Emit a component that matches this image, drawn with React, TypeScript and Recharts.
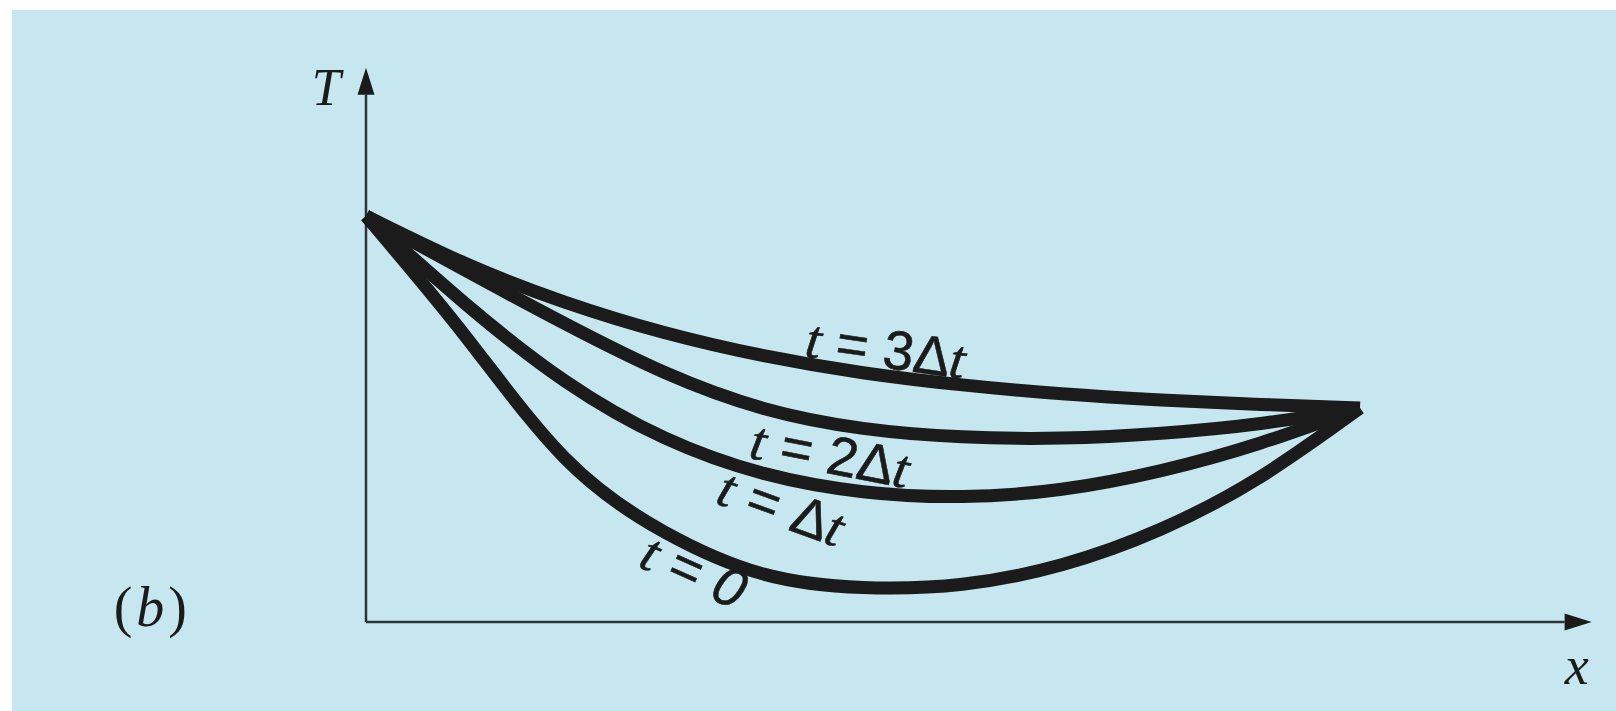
import React from 'react';
import { LineChart, Line, XAxis, YAxis, ReferenceLine, ReferenceDot } from 'recharts';

// Position along the rod (0 = left end, 10 = right end)
const positions = [0, 1, 2, 3, 4, 5, 6, 7, 8, 9, 10];

// Temperature profiles at successive time steps
const tempAt0 = [100, 70.4, 40.4, 22.2, 11.8, 8.5, 9.3, 14.1, 22.9, 35.8, 52.7];
const tempAt1 = [100, 78.4, 59.4, 45.4, 36.6, 32.1, 30.9, 32.7, 37.3, 44.1, 52.7];
const tempAt2 = [100, 86.6, 73.5, 61.5, 52.6, 47.7, 45.6, 45.3, 46.5, 48.9, 52.7];
const tempAt3 = [100, 88.3, 78.8, 71.3, 65.6, 61.4, 58.4, 56.2, 54.7, 53.6, 52.7];

// Curve labels: [time suffix, x, T, rotation]
const curveLabels: Array<[string, number, number, number]> = [
  ['3Δ', 5.23, 67.3, 8],
  ['2Δ', 4.67, 41.3, 11],
  ['Δ', 4.18, 28.3, 20],
  ['0', 3.3, 12.6, 24],
];

const data = positions.map((x, i) => ({
  x,
  t0: tempAt0[i],
  t1: tempAt1[i],
  t2: tempAt2[i],
  t3: tempAt3[i],
}));

const INK = '#1b1b1b';
const AXIS = '#2e3436';
const SERIF = '"Liberation Serif", "DejaVu Serif", serif';
const SANS = '"Liberation Sans", Arial, sans-serif';

function ArrowAxis(props: any) {
  const { x1, y1, x2, y2 } = props;
  const dx = x2 - x1;
  const dy = y2 - y1;
  const len = Math.sqrt(dx * dx + dy * dy) || 1;
  const ux = dx / len;
  const uy = dy / len;
  const head = 27;
  const half = 8.5;
  const bx = x2 - ux * head;
  const by = y2 - uy * head;
  const px = -uy * half;
  const py = ux * half;
  return (
    <g>
      <line x1={x1} y1={y1} x2={bx} y2={by} stroke={AXIS} strokeWidth={2.5} />
      <polygon
        points={`${x2},${y2} ${bx + px},${by + py} ${bx - px},${by - py}`}
        fill={INK}
      />
    </g>
  );
}

function CurveLabel(suffix: string, rot: number) {
  return (props: any) => {
    const { cx, cy } = props;
    const italicNum = suffix === '0';
    return (
      <text
        x={cx}
        y={cy}
        textAnchor="middle"
        dominantBaseline="central"
        transform={`rotate(${rot} ${cx} ${cy})`}
        fill={INK}
        stroke={INK}
        strokeWidth={0.6}
        fontSize={55}
      >
        <tspan fontFamily={SERIF} fontStyle="italic">t</tspan>
        <tspan fontFamily={SANS}>{' = '}</tspan>
        <tspan fontFamily={SANS} fontStyle={italicNum ? 'italic' : 'normal'}>{suffix}</tspan>
        {suffix !== '0' && <tspan fontFamily={SERIF} fontStyle="italic">t</tspan>}
      </text>
    );
  };
}

function TextMark(content: React.ReactNode, size: number) {
  return (props: any) => {
    const { cx, cy } = props;
    return (
      <text
        x={cx}
        y={cy}
        textAnchor="middle"
        dominantBaseline="central"
        fill={INK}
        fontSize={size}
        fontFamily={SERIF}
      >
        {content}
      </text>
    );
  };
}

export default function App() {
  return (
    <div style={{ position: 'absolute', left: 0, top: 0, width: 1616, height: 711, background: '#ffffff' }}>
      <div
        style={{ position: 'absolute', left: 12, top: 10, width: 1604, height: 701, background: '#c6e7f0' }}
      />
      <div style={{ position: 'absolute', left: 0, top: 0 }}>
        <LineChart
          width={1616}
          height={711}
          data={data}
          margin={{ top: 53.6, right: 7.5, bottom: 89, left: 366 }}
        >
          <XAxis dataKey="x" type="number" domain={[0, 12.5]} hide />
          <YAxis type="number" domain={[0, 140]} hide />
          <ReferenceLine
            segment={[{ x: 0, y: 0 }, { x: 12.33, y: 0 }]}
            shape={ArrowAxis}
            ifOverflow="visible"
          />
          <ReferenceLine
            segment={[{ x: 0, y: 0 }, { x: 0, y: 136.5 }]}
            shape={ArrowAxis}
            ifOverflow="visible"
          />
          <Line type="natural" dataKey="t0" stroke={INK} strokeWidth={13} dot={false} isAnimationActive={false} strokeLinejoin="round" />
          <Line type="natural" dataKey="t1" stroke={INK} strokeWidth={13} dot={false} isAnimationActive={false} strokeLinejoin="round" />
          <Line type="natural" dataKey="t2" stroke={INK} strokeWidth={13} dot={false} isAnimationActive={false} strokeLinejoin="round" />
          <Line type="natural" dataKey="t3" stroke={INK} strokeWidth={13} dot={false} isAnimationActive={false} strokeLinejoin="round" />
          {curveLabels.map(([suffix, x, y, rot]) => (
            <ReferenceDot key={suffix} x={x} y={y} r={0} ifOverflow="visible" shape={CurveLabel(suffix, rot)} />
          ))}
          <ReferenceDot
            x={-0.4}
            y={131.8}
            r={0}
            ifOverflow="visible"
            shape={TextMark(<tspan fontStyle="italic">T</tspan>, 52)}
          />
          <ReferenceDot
            x={12.18}
            y={-10.8}
            r={0}
            ifOverflow="visible"
            shape={TextMark(<tspan fontStyle="italic">x</tspan>, 54)}
          />
          <ReferenceDot
            x={-2.17}
            y={3.7}
            r={0}
            ifOverflow="visible"
            shape={TextMark(
              <>
                <tspan>(</tspan>
                <tspan fontStyle="italic" dx={4}>b</tspan>
                <tspan dx={4}>)</tspan>
              </>,
              56
            )}
          />
        </LineChart>
      </div>
    </div>
  );
}
